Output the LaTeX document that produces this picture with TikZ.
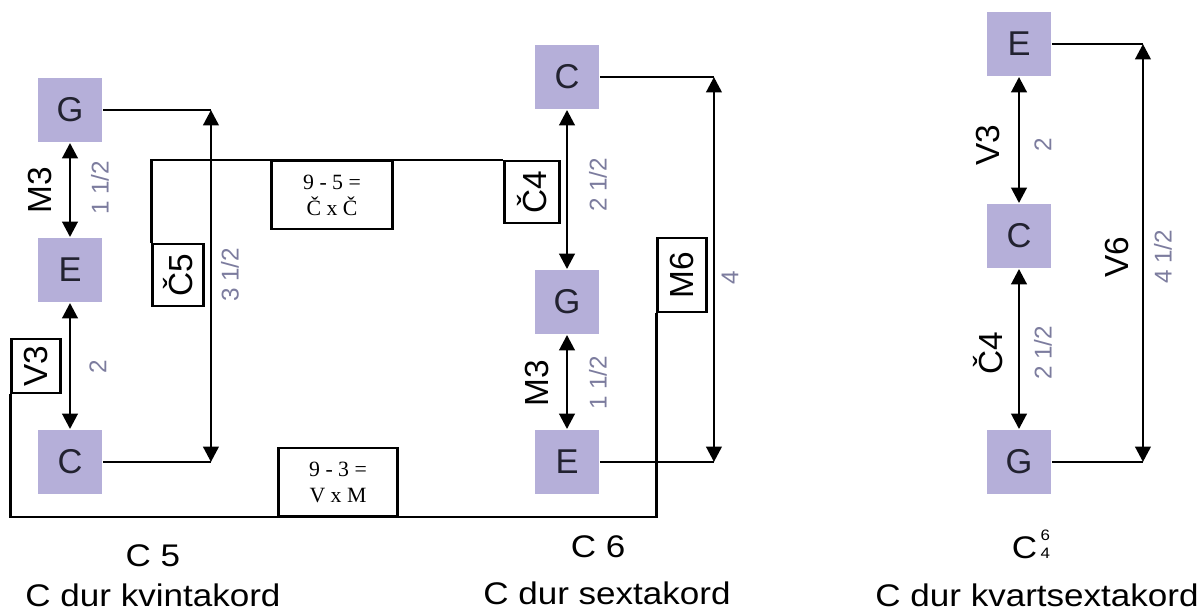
\documentclass[tikz,border=0pt]{standalone}
\usepackage{fontspec}
\setmainfont{Liberation Sans}
\newfontfamily\titlesans[FakeStretch=1.12]{Liberation Sans}
\newfontfamily\eqserif{Liberation Serif}
\usetikzlibrary{arrows.meta}
\definecolor{tone}{HTML}{B5AFD9}
\definecolor{ink}{HTML}{222230}
\definecolor{dist}{HTML}{7C7C9E}
\newcommand{\sixfour}{C\kern1pt{\fontsize{4.3}{5.3}\selectfont
  \begin{tabular}[b]{@{}l@{}}6\\4\end{tabular}}}
\tikzset{>={Triangle[length=4.4pt,width=4.4pt]},
  tone/.style={fill=tone,text=ink,minimum size=6.45mm,inner sep=0pt,font=\fontsize{9.8}{10}\selectfont},
  arr/.style={draw=black,line width=0.8pt,<->},
  link/.style={draw=black,line width=0.6pt},
  ival/.style={draw=black,fill=white,line width=0.6pt,rotate=90,inner sep=0pt,font=\fontsize{9.5}{10}\selectfont},
  iname/.style={rotate=90,inner sep=0pt,font=\fontsize{9.5}{10}\selectfont},
  dist/.style={text=dist,rotate=90,inner sep=0pt,font=\fontsize{6.9}{8}\selectfont},
  eq/.style={draw=black,fill=white,line width=0.6pt,align=center,inner sep=0pt,
    minimum height=6.8mm,font=\eqserif\fontsize{6.2}{7.4}\selectfont},
  title/.style={anchor=base,inner sep=0pt,font=\titlesans\fontsize{8.9}{10}\selectfont}}
\begin{document}
\begin{tikzpicture}[x=0.1mm,y=-0.1mm]
  \useasboundingbox (0,0) rectangle (1203,615);
  \node[tone] (G5) at (70,110) {G};
  \node[tone] (E5) at (70,270) {E};
  \node[tone] (C5) at (70,462) {C};
  \node[tone] (C6) at (567,77) {C};
  \node[tone] (G6) at (567,302) {G};
  \node[tone] (E6) at (567,462) {E};
  \node[tone] (E64) at (1019,44) {E};
  \node[tone] (C64) at (1019,236) {C};
  \node[tone] (G64) at (1019,462) {G};
  \draw[arr] (G5) -- (E5);
  \draw[arr] (E5) -- (C5);
  \draw[arr] (C6) -- (G6);
  \draw[arr] (G6) -- (E6);
  \draw[arr] (E64) -- (C64);
  \draw[arr] (C64) -- (G64);
  \draw[link] (G5.east) -- ++(108,0) coordinate (t5);
  \draw[link] (C5.east) -- (C5.east -| t5) coordinate (b5);
  \draw[arr] (t5) -- (b5);
  \draw[link] (C6.east) -- ++(114,0) coordinate (t6);
  \draw[link] (E6.east) -- (E6.east -| t6) coordinate (b6);
  \draw[arr] (t6) -- (b6);
  \draw[link] (E64.east) -- ++(91,0) coordinate (t64);
  \draw[link] (G64.east) -- (G64.east -| t64) coordinate (b64);
  \draw[arr] (t64) -- (b64);
  \node[ival,minimum width=6.2mm,minimum height=5.1mm] (q5) at (178,275) {Č5};
  \node[ival,minimum width=5.4mm,minimum height=4.9mm] (v5) at (36,366) {V3};
  \node[ival,minimum width=6.2mm,minimum height=5.5mm] (q6) at (532,192) {Č4};
  \node[ival,minimum width=7.4mm,minimum height=4.9mm] (m6) at (682,275) {M6};
  \node[eq,minimum width=12.1mm] (eq5) at (332,195) {9 - 5 =\\Č x Č};
  \node[eq,minimum width=11.9mm] (eq3) at (338,482) {9 - 3 =\\V x M};
  \draw[link] (q5.north east) |- (eq5.north) -| (q6.north east);
  \draw[link] (v5.north west) |- (eq3.south) -| (m6.north west);
  \node[eq,minimum width=12.1mm] at (eq5) {9 - 5 =\\Č x Č};
  \node[eq,minimum width=11.9mm] at (eq3) {9 - 3 =\\V x M};
  \node[iname] (n1) at (40,190) {M3};
  \node[dist] (d1) at (100,188) {1 1/2};
  \node[dist] (d2) at (98,367) {2};
  \node[dist] (d3) at (230,275) {3 1/2};
  \node[dist] (d4) at (598,185) {2 1/2};
  \node[iname] (n2) at (537,383) {M3};
  \node[dist] (d5) at (598,383) {1 1/2};
  \node[dist] (d6) at (730,278) {4};
  \node[iname] (n3) at (988,145) {V3};
  \node[dist] (d7) at (1043,145) {2};
  \node[iname] (n4) at (988,353) {Č4};
  \node[dist] (d8) at (1043,353) {2 1/2};
  \node[iname] (n5) at (1117,257) {V6};
  \node[dist] (d9) at (1163,257) {4 1/2};
  \node[title] (s5) at (153,567) {C 5};
  \node[title] (s6) at (598,558) {C 6};
  \node[title] (s64) at (1031,559) {\sixfour};
  \node[title] (k5) at (153,606) {C dur kvintakord};
  \node[title] (k6) at (607,604) {C dur sextakord};
  \node[title] (k64) at (1037,606) {C dur kvartsextakord};
\end{tikzpicture}
\end{document}
